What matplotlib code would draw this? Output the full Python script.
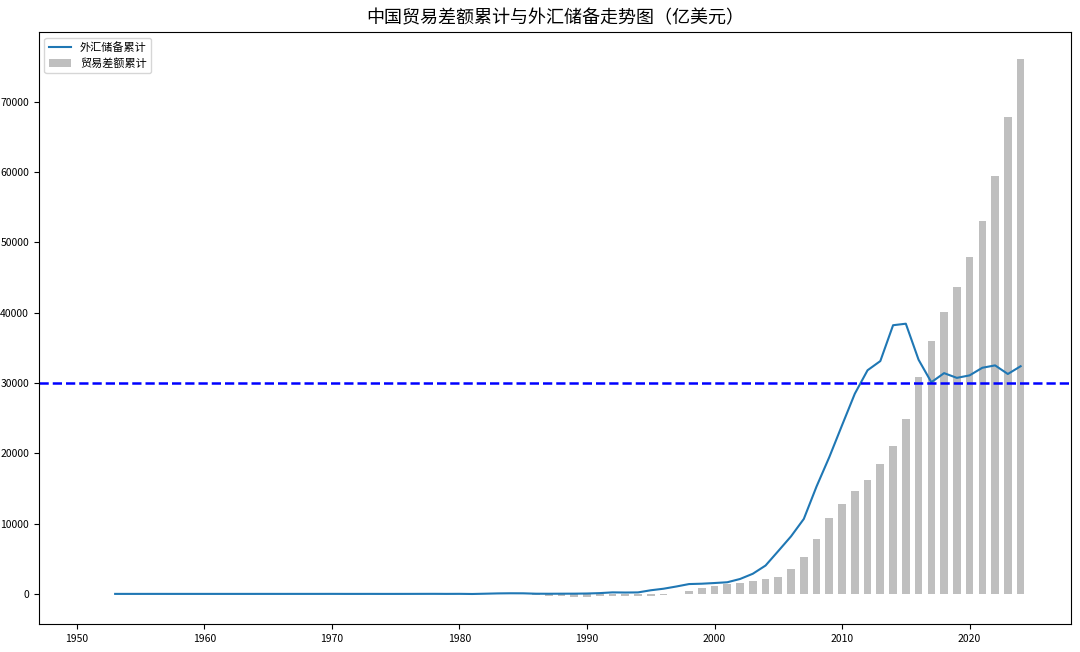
import numpy as np
import matplotlib
matplotlib.use("Agg")
import matplotlib.pyplot as plt

plt.rcParams['font.family'] = ['Noto Sans CJK SC', 'DejaVu Sans']
plt.rcParams['axes.unicode_minus'] = False

# 外汇储备累计（亿美元），1953-2024
reserve_years = np.arange(1953, 2025)
reserves = [1.08, 0.90, 0.88, 1.80, 1.17, 1.23, 0.70, 1.05, 0.46, 0.89,
            0.81, 1.19, 1.66, 1.05, 2.11, 2.15, 2.46, 4.83, 0.88, 0.37,
            2.36, -0.81, 0.00, 1.83, 5.81, 9.52, 1.67, 8.40, -12.96, 27.08,
            69.86, 89.01, 82.20, 26.44, 20.72, 29.23, 33.72, 55.50, 110.93, 217.12,
            194.43, 211.99, 516.20, 735.97, 1050.29, 1398.90, 1449.59, 1546.75, 1655.74, 2121.65,
            2864.07, 4032.51, 6099.32, 8188.72, 10663.44, 15282.49, 19460.30, 23991.52, 28473.38, 31811.48,
            33115.89, 38213.15, 38430.18, 33303.62, 30105.17, 31399.49, 30727.12, 31079.24, 32165.22, 32501.66,
            31276.91, 32379.77]

# 贸易差额累计（亿美元），1951-2024
trade_years = np.arange(1951, 2025)
trade_cum = [-1.0, -3.2, -6.0, -8.3, -8.4, -11.7, -10.1, -8.4, -6.3, -1.2,
             -1.9, -0.4, 3.5, 8.5, 13.2, 15.2, 16.6, 17.4, 18.8, 22.4,
             22.0, 26.0, 30.0, 29.5, 19.5, 18.6, 21.4, 25.4, 14.0, -6.1,
             -25.1, -25.1, 5.3, 13.7, 1.0, -148.0, -267.6, -305.3, -382.8, -448.8,
             -361.4, -280.9, -237.4, -359.6, -305.6, -138.7, -16.5, 387.7, 822.4, 1114.7,
             1355.8, 1581.3, 1885.6, 2140.3, 2461.2, 3481, 5256, 7874, 10855, 12812,
             14627, 16176, 18479, 21069, 24894, 30833, 35930, 40126, 43635, 47900,
             53100, 59400, 67900, 76100]

fig = plt.figure(figsize=(10.8, 6.52), dpi=100)
ax = fig.add_axes([0.036, 0.043, 0.956, 0.908])

ax.plot(reserve_years, reserves, color='#1f77b4', linewidth=1.5, label='外汇储备累计')
ax.bar(trade_years, trade_cum, width=0.6, color='gray', alpha=0.5, label='贸易差额累计')
ax.axhline(30000, color='blue', linestyle='--', linewidth=1.8)

ax.set_title('中国贸易差额累计与外汇储备走势图（亿美元）', fontsize=13)
ax.tick_params(labelsize=7.5)
ax.legend(loc='upper left', fontsize=8)

fig.savefig('out.png')
